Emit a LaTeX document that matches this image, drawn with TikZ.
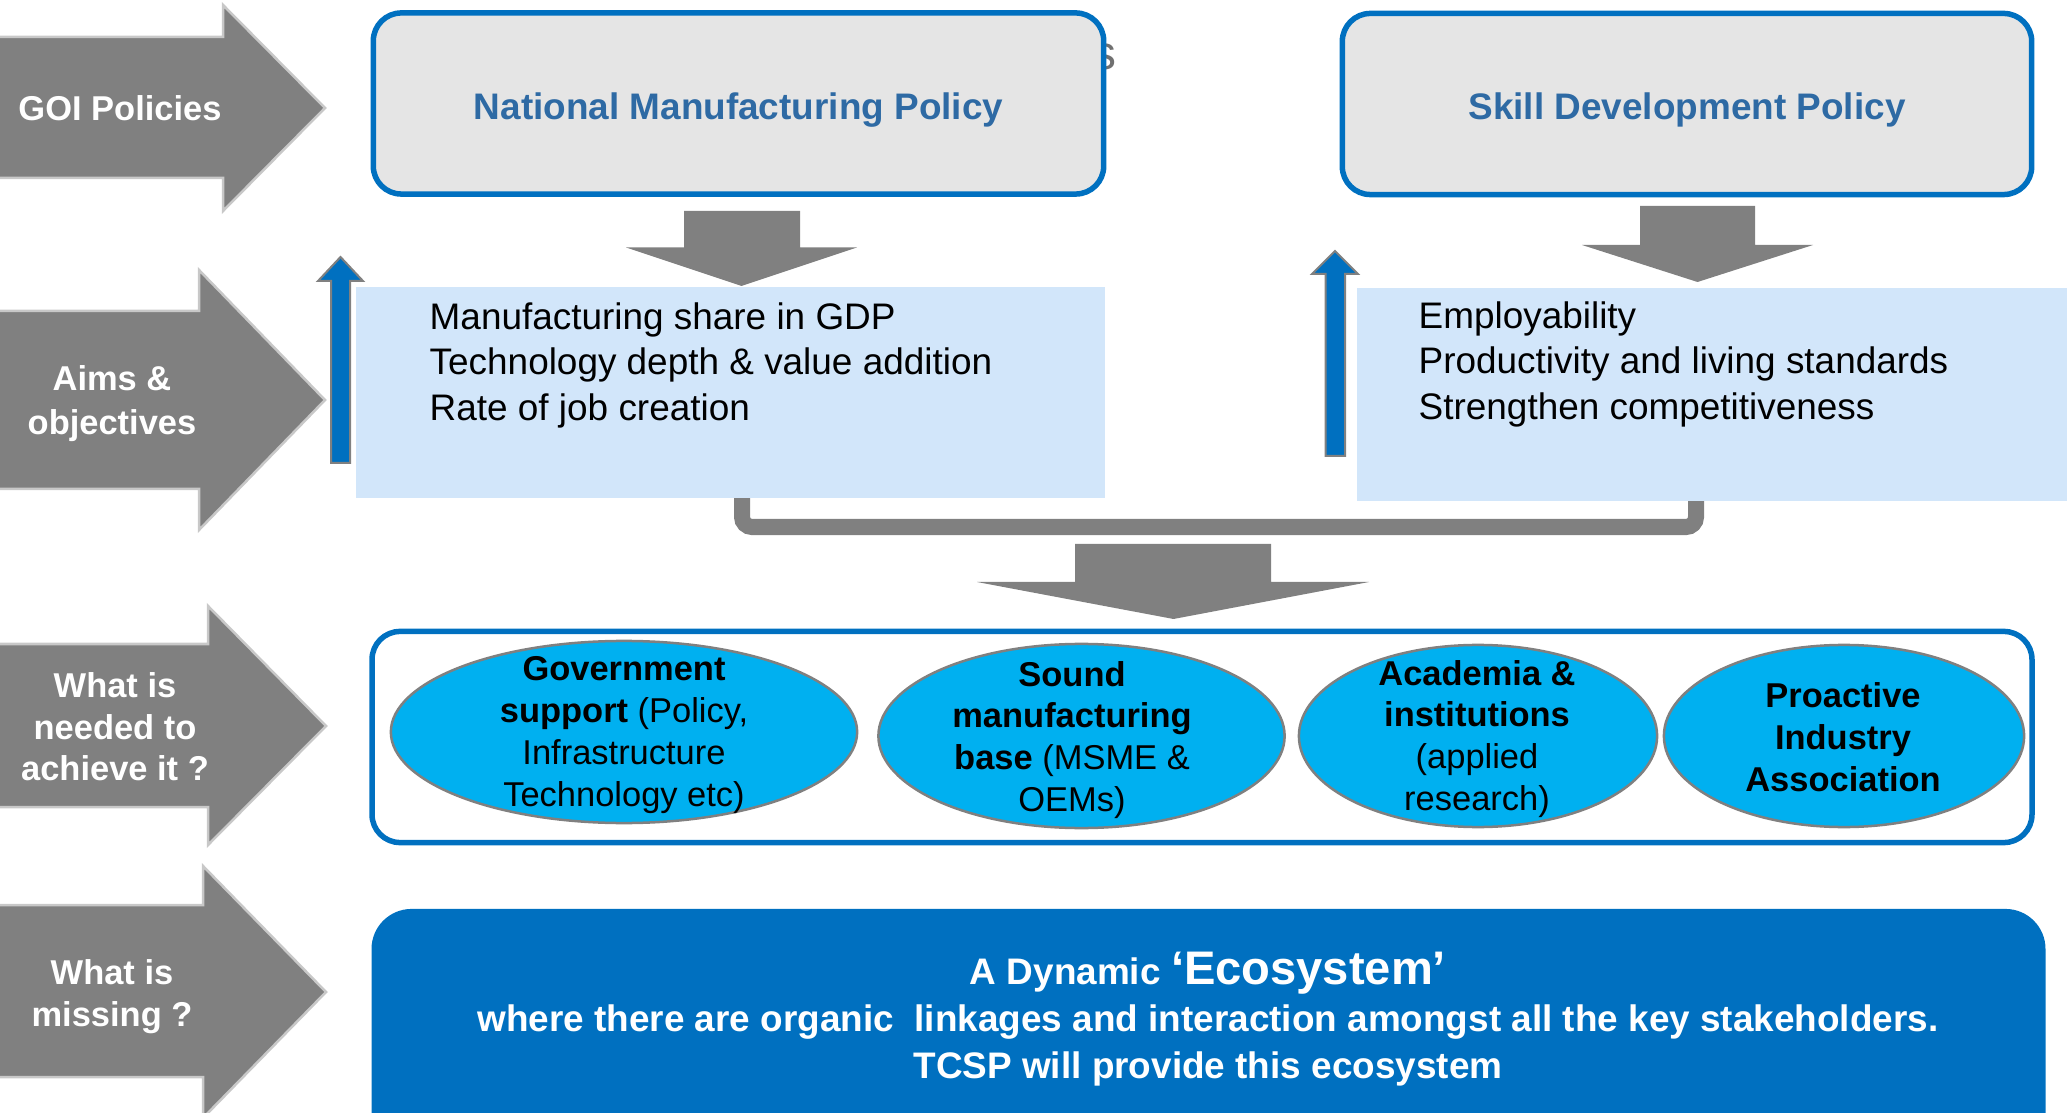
\documentclass[tikz,border=0pt]{standalone}
\usepackage{fontspec}
\setmainfont{Liberation Sans}
\usetikzlibrary{shapes.geometric}
\definecolor{arrowgray}{HTML}{808080}
\definecolor{arrowedge}{HTML}{C8C8C8}
\definecolor{mainblue}{HTML}{0070C0}
\definecolor{boxgray}{HTML}{E5E5E5}
\definecolor{policytxt}{HTML}{2E6AA4}
\definecolor{lightblue}{HTML}{D2E6FA}
\definecolor{cyanfill}{HTML}{00B0F0}
\definecolor{fraggray}{HTML}{707070}
\newcommand\myfs[2]{\fontsize{#1}{#2}\selectfont}
\begin{document}
\begin{tikzpicture}[x=0.01cm, y=-0.01cm,
  sidearrow/.style={fill=arrowgray, draw=arrowedge, line width=0.025cm, line join=miter},
  sidelabel/.style={text=white, font=\bfseries\myfs{9.8pt}{12pt}, align=center, inner sep=0},
  policybox/.style={draw=mainblue, line width=0.055cm, fill=boxgray, rounded corners=0.28cm, inner sep=0},
  policytitle/.style={inner sep=0, font=\bfseries\myfs{10.5pt}{12pt}, text=policytxt},
  aimbox/.style={fill=lightblue, inner sep=0},
  aimtext/.style={font=\myfs{10.5pt}{12.95pt}, align=left, inner sep=0, anchor=west},
  blockarrow/.style={fill=arrowgray},
  uparrow/.style={fill=mainblue, draw=arrowgray, line width=0.02cm},
  bracketline/.style={draw=arrowgray, line width=0.16cm, rounded corners=0.1cm},
  container/.style={draw=mainblue, line width=0.055cm, fill=white, rounded corners=0.28cm, inner sep=0},
  stake/.style={ellipse, fill=cyanfill, draw=arrowgray, line width=0.025cm, inner sep=0},
  staketext/.style={align=center, inner sep=0, font=\myfs{9.8pt}{11.9pt}},
  ecobox/.style={fill=mainblue, rounded corners=0.4cm, inner sep=0},
  ecotext/.style={text=white, inner sep=0, font=\bfseries\myfs{10.5pt}{12pt}}
]
\useasboundingbox (0,0) rectangle (2067,1113);

% side arrows
\draw[sidearrow] (-10,37) -- (223,37) -- (223,5) -- (325,108) -- (223,211) -- (223,178) -- (-10,178) -- cycle;
\draw[sidearrow] (-10,311) -- (199,311) -- (199,270) -- (325,400) -- (199,530) -- (199,489) -- (-10,489) -- cycle;
\draw[sidearrow] (-10,644) -- (208,644) -- (208,606) -- (326,726) -- (208,845) -- (208,807) -- (-10,807) -- cycle;
\draw[sidearrow] (-10,905) -- (203,905) -- (203,866) -- (326,992) -- (203,1118) -- (203,1077) -- (-10,1077) -- cycle;

\node[sidelabel] (l1) at (120,108) {GOI Policies};
\node[sidelabel, font=\bfseries\myfs{9.8pt}{12.5pt}] (l2) at (112,404) {Aims \&\\objectives};
\node[sidelabel, font=\bfseries\myfs{9.8pt}{11.8pt}] (l3) at (115,727) {What is\\needed to\\achieve it ?};
\node[sidelabel] (l4) at (112,997) {What is\\missing ?};

% up arrows
\draw[uparrow] (331,463) -- (350,463) -- (350,281) -- (363,281) -- (340.5,257) -- (318,281) -- (331,281) -- cycle;
\draw[uparrow] (1325.5,456) -- (1345,456) -- (1345,274) -- (1358,274) -- (1335,251) -- (1312,274) -- (1325.5,274) -- cycle;

% bracket
\coordinate (brL) at (742,490);
\coordinate (brR) at (1696,490);
\draw[bracketline] (brL) -- (742,527) -- (1696,527) -- (brR);

% light blue boxes
\node[aimbox, minimum width=7.49cm, minimum height=2.11cm] (aimL) at (730.5,392.5) {};
\node[aimbox, minimum width=7.23cm, minimum height=2.12cm] (aimR) at (1718.5,394.5) {};
\node[aimtext] (aimLt) at (429,365) {Manufacturing share in GDP\\Technology depth \& value addition\\Rate of job creation};
\node[aimtext] (aimRt) at (1418,364) {Employability\\Productivity and living standards\\Strengthen competitiveness};

% policy boxes
\node[text=fraggray, inner sep=0, font=\myfs{13.6pt}{14pt}] (frag) at (1104,57) {s};
\node[policybox, minimum width=7.30cm, minimum height=1.81cm] (nmp) at (738.5,103.5) {};
\node[policybox, minimum width=6.89cm, minimum height=1.81cm] (sdp) at (1687,104) {};
\node[policytitle] (nmpt) at (738.5,110) {National Manufacturing Policy};
\node[policytitle] (sdpt) at (1687,110) {Skill Development Policy};

% down block arrows
\fill[blockarrow] (684,211) -- (800,211) -- (800,247.5) -- (857,247.5) -- (741.5,286) -- (626,247.5) -- (684,247.5) -- cycle;
\fill[blockarrow] (1640,206) -- (1755,206) -- (1755,245) -- (1813,245) -- (1697.5,282) -- (1582,245) -- (1640,245) -- cycle;
\fill[blockarrow] (1075,544) -- (1271,544) -- (1271,582) -- (1369,582) -- (1173.5,619) -- (977,582) -- (1075,582) -- cycle;

% stakeholders
\node[container, minimum width=16.59cm, minimum height=2.11cm] (need) at (1202,737) {};
\node[stake, minimum width=4.66cm, minimum height=1.82cm] (e1) at (624,732) {};
\node[stake, minimum width=4.06cm, minimum height=1.84cm] (e2) at (1081.5,736) {};
\node[stake, minimum width=3.58cm, minimum height=1.82cm] (e3) at (1478,736) {};
\node[stake, minimum width=3.60cm, minimum height=1.82cm] (e4) at (1844,736) {};
\node[staketext] (t1) at (624,735) {\textbf{Government}\\\textbf{support} (Policy,\\Infrastructure\\Technology etc)};
\node[staketext] (t2) at (1072,740) {\textbf{Sound}\\\textbf{manufacturing}\\\textbf{base} (MSME \&\\OEMs)};
\node[staketext] (t3) at (1477,739) {\textbf{Academia \&}\\\textbf{institutions}\\(applied\\research)};
\node[staketext, font=\bfseries\myfs{9.8pt}{11.9pt}] (t4) at (1843,737) {Proactive\\Industry\\Association};

% ecosystem
\node[ecobox, minimum width=16.73cm, minimum height=2.5cm] (eco) at (1208.5,1034) {};
\node[ecotext] (eco1) at (1208,973) {A Dynamic {\myfs{13.4pt}{15pt}‘Ecosystem’}};
\node[ecotext] (eco2) at (1208,1022) {where there are organic\ \ linkages and interaction amongst all the key stakeholders.};
\node[ecotext] (eco3) at (1208,1069) {TCSP will provide this ecosystem};
\end{tikzpicture}
\end{document}
